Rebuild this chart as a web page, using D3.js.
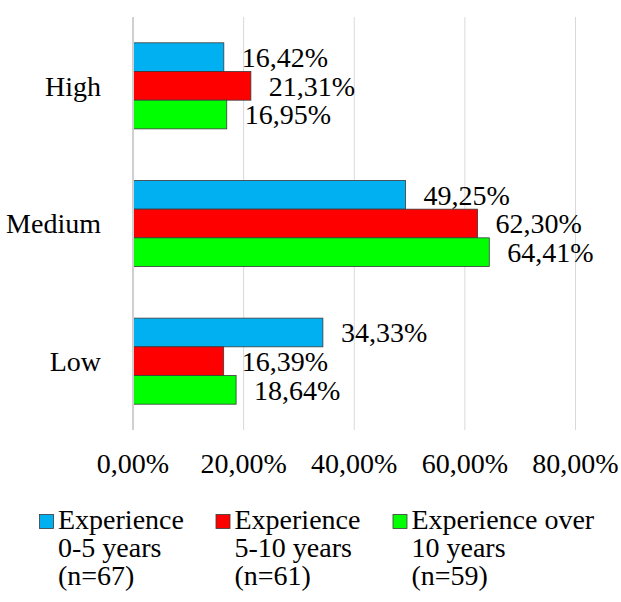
<!DOCTYPE html>
<html><head><meta charset="utf-8"><script src="https://cdn.jsdelivr.net/npm/d3@7"></script></head>
<body style="margin:0; font-family: 'Liberation Serif';">
<script>
// ---- data ----
const categories = ["High", "Medium", "Low"];
const seriesNames = ["Experience 0-5 years (n=67)", "Experience 5-10 years (n=61)", "Experience over 10 years (n=59)"];
const legendLines = [
  ["Experience", "0-5 years", "(n=67)"],
  ["Experience", "5-10 years", "(n=61)"],
  ["Experience over", "10 years", "(n=59)"]
];
const exp0to5 = [16.42, 49.25, 34.33];
const exp5to10 = [21.31, 62.30, 16.39];
const expOver10 = [16.95, 64.41, 18.64];
const tickValues = [0, 20, 40, 60, 80];
const colors = ["#00B0F0", "#FF0000", "#00FF00"];

const seriesValues = [exp0to5, exp5to10, expOver10];

// ---- layout ----
const W = 621, H = 602;
const plot = { left: 133, right: 575.5, top: 17, bottom: 430 };

const svg = d3.select("body").append("svg").attr("width", W).attr("height", H)
  .style("display", "block")
  .style("font", "28px Times");

const x = d3.scaleLinear().domain([0, 80]).range([plot.left, plot.right]);
const y = d3.scaleBand().domain(categories).range([plot.top, plot.bottom])
  .paddingInner(0.375).paddingOuter(0.1875);
const ySub = d3.scaleBand().domain(d3.range(seriesNames.length)).range([0, y.bandwidth()]).padding(0);

const fmt = v => v.toFixed(2).replace(".", ",") + "%";

function addText(parent, tx, ty, str, anchor) {
  return parent.append("text")
    .attr("x", tx).attr("y", ty)
    .attr("text-anchor", anchor || "start")
    .style("font-family", "Times")
    .style("font-size", "28px")
    .text(str);
}

// gridlines
svg.append("g").selectAll("line").data(tickValues.filter(t => t > 0)).join("line")
  .attr("x1", d => x(d)).attr("x2", d => x(d))
  .attr("y1", plot.top).attr("y2", plot.bottom)
  .attr("stroke", "#d9d9d9").attr("stroke-width", 1);

// bars
categories.forEach((cat, ci) => {
  seriesValues.forEach((vals, si) => {
    const yTop = y(cat) + ySub(si);
    svg.append("rect")
      .attr("x", x(0))
      .attr("y", yTop)
      .attr("width", x(vals[ci]) - x(0))
      .attr("height", ySub.bandwidth())
      .attr("fill", colors[si])
      .attr("stroke", "#3a3a3a").attr("stroke-width", 0.8);
    addText(svg, x(vals[ci]) + 18, yTop + ySub.bandwidth() / 2 + 9.8, fmt(vals[ci]));
  });
});

// vertical axis line
svg.append("line")
  .attr("x1", x(0)).attr("x2", x(0))
  .attr("y1", plot.top).attr("y2", plot.bottom)
  .attr("stroke", "#d0d0d0").attr("stroke-width", 2);

// category labels
categories.forEach(cat => {
  addText(svg, 101, y(cat) + y.bandwidth() / 2 + 9.8, cat, "end");
});

// x tick labels
tickValues.forEach(t => {
  addText(svg, x(t), 472.5, fmt(t), "middle");
});

// legend
const legendX = [39.5, 216, 393];
seriesNames.forEach((name, i) => {
  svg.append("rect")
    .attr("x", legendX[i]).attr("y", 514.5).attr("width", 14).attr("height", 14)
    .attr("fill", colors[i])
    .attr("stroke", "#3a3a3a").attr("stroke-width", 0.8);
  legendLines[i].forEach((line, li) => {
    addText(svg, legendX[i] + 18.5, 529 + li * 28, line);
  });
});
</script></body></html>
